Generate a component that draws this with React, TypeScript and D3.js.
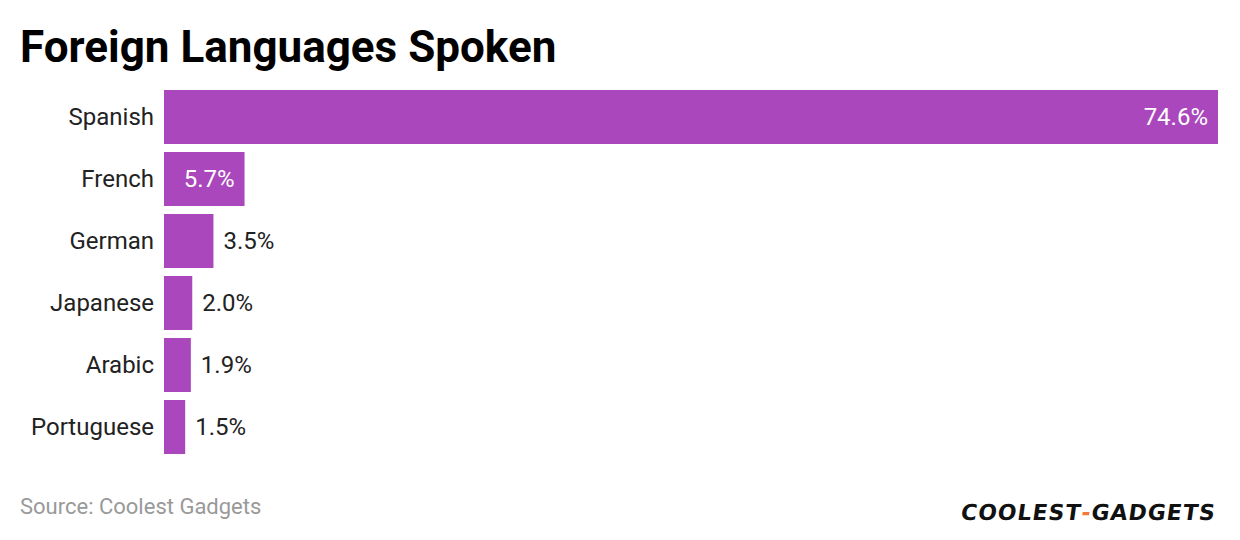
import React from "react";
import * as d3 from "d3";

const categories = ["Spanish", "French", "German", "Japanese", "Arabic", "Portuguese"];
const values = [74.6, 5.7, 3.5, 2.0, 1.9, 1.5];
const valueLabels = ["74.6%", "5.7%", "3.5%", "2.0%", "1.9%", "1.5%"];

const W = 1240;
const H = 540;
const BAR = "#AA47BC";
const FONT = "Roboto, 'Noto Sans', sans-serif";

export default function App() {
  const x = d3.scaleLinear().domain([0, d3.max(values) as number]).range([164, 1218]);
  const y = d3
    .scaleBand<string>()
    .domain(categories)
    .range([90, 454])
    .paddingInner(8 / 62)
    .paddingOuter(0);

  return (
    <svg
      width={W}
      height={H}
      style={{ position: "absolute", left: 0, top: 0, background: "#fff" }}
      fontFamily={FONT}
    >
      <rect width={W} height={H} fill="#fff" />
      <text x={20} y={62} fontSize={44} fontWeight={700} fill="#000">
        Foreign Languages Spoken
      </text>
      {categories.map((c, i) => {
        const v = values[i];
        const y0 = y(c) as number;
        const bw = x(v) - x(0);
        const cy = y0 + y.bandwidth() / 2;
        const inside = bw > 70;
        return (
          <g key={c}>
            <rect x={x(0)} y={y0} width={bw} height={y.bandwidth()} fill={BAR} />
            <text
              x={x(0) - 10}
              y={cy}
              dy="0.35em"
              textAnchor="end"
              fontSize={24}
              fill="#222"
            >
              {c}
            </text>
            <text
              x={inside ? x(v) - 10 : x(v) + 10}
              y={cy}
              dy="0.35em"
              textAnchor={inside ? "end" : "start"}
              fontSize={24}
              fill={inside ? "#fff" : "#222"}
            >
              {valueLabels[i]}
            </text>
          </g>
        );
      })}
      <text x={20} y={514} fontSize={22} fill="#999">
        Source: Coolest Gadgets
      </text>
      <g transform="translate(960,520) skewX(-8)">
        <text
          x={0}
          y={0}
          fontSize={22}
          fontWeight={900}
          fontFamily="'DejaVu Sans', sans-serif"
          fill="#111"
          letterSpacing={1}
        >
          COOLEST
          <tspan fill="#F07A3A">-</tspan>
          GADGETS
        </text>
      </g>
    </svg>
  );
}
